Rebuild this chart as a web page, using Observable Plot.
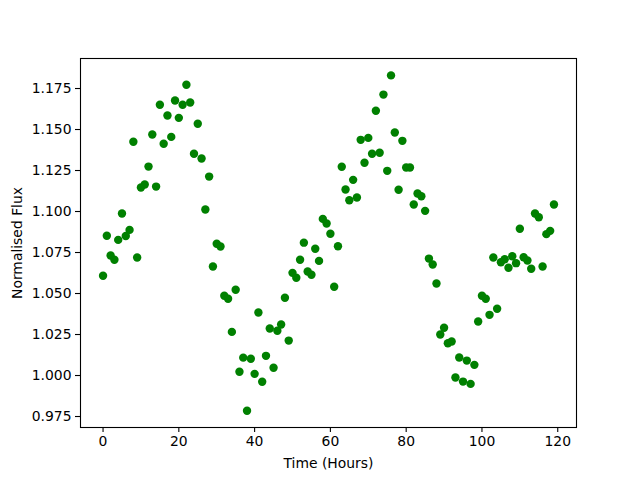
<!DOCTYPE html>
<html>
<head>
<meta charset="utf-8">
<script src="https://cdn.jsdelivr.net/npm/d3@7"></script>
<script src="https://cdn.jsdelivr.net/npm/@observablehq/plot@0.6"></script>
<style>
  html, body { margin: 0; padding: 0; background: #fff; }
  #chart svg { display: block; }
</style>
</head>
<body>
<div id="chart"></div>
<script>
const hours = [
  0,1,2,3,4,5,6,7,8,9,10,11,12,13,14,15,16,17,18,19,
  20,21,22,23,24,25,26,27,28,29,30,31,32,33,34,35,36,37,38,39,
  40,41,42,43,44,45,46,47,48,49,50,51,52,53,54,55,56,57,58,59,
  60,61,62,63,64,65,66,67,68,69,70,71,72,73,74,75,76,77,78,79,
  80,81,82,83,84,85,86,87,88,89,90,91,92,93,94,95,96,97,98,99,
  100,101,102,103,104,105,106,107,108,109,110,111,112,113,114,115,116,117,118,119
];
const flux = [
  1.0608,1.0852,1.0732,1.0706,1.0827,1.0988,1.0851,1.0888,1.1425,1.0720,
  1.1146,1.1165,1.1274,1.1470,1.1152,1.1651,1.1413,1.1585,1.1455,1.1677,
  1.1571,1.1651,1.1773,1.1665,1.1352,1.1535,1.1323,1.1012,1.1213,1.0665,
  1.0803,1.0787,1.0486,1.0468,1.0266,1.0523,1.0023,1.0109,0.9785,1.0102,
  1.0010,1.0384,0.9962,1.0120,1.0287,1.0047,1.0273,1.0311,1.0474,1.0213,
  1.0626,1.0596,1.0706,1.0810,1.0634,1.0614,1.0773,1.0699,1.0955,1.0927,
  1.0864,1.0541,1.0788,1.1273,1.1134,1.1069,1.1193,1.1085,1.1437,1.1297,
  1.1449,1.1352,1.1614,1.1358,1.1713,1.1248,1.1830,1.1482,1.1133,1.1431,
  1.1268,1.1268,1.1043,1.1110,1.1093,1.1004,1.0713,1.0677,1.0561,1.0250,
  1.0291,1.0197,1.0207,0.9988,1.0110,0.9963,1.0091,0.9949,1.0065,1.0329,
  1.0486,1.0468,1.0370,1.0720,1.0407,1.0691,1.0709,1.0657,1.0727,1.0685,
  1.0895,1.0721,1.0701,1.0651,1.0988,1.0965,1.0665,1.0862,1.0882,1.1043
];
const xTicks = [0, 20, 40, 60, 80, 100, 120];
const yTicks = [0.975, 1.000, 1.025, 1.050, 1.075, 1.100, 1.125, 1.150, 1.175];
const xLabel = "Time (Hours)";
const yLabel = "Normalised Flux";

const data = hours.map((h, i) => ({h, f: flux[i]}));

const chart = Plot.plot({
  width: 640,
  height: 480,
  marginLeft: 80,
  marginRight: 64,
  marginTop: 58,
  marginBottom: 53,
  style: {fontFamily: "DejaVu Sans", fontSize: "13.9px", color: "black", background: "white"},
  x: {domain: [-5.95, 124.95]},
  y: {domain: [0.9683, 1.1933]},
  marks: [
    Plot.dot(data, {x: "h", y: "f", r: 4.2, fill: "#008000", stroke: null}),
    Plot.frame({stroke: "black", strokeWidth: 1.1}),
    Plot.axisX(xTicks, {tickSize: 5, tickPadding: 4, label: null, fontSize: 13.9, stroke: "black", strokeWidth: 1.1}),
    Plot.axisY(yTicks, {tickSize: 5, tickPadding: 4, label: null, tickFormat: d3.format(".3f"), fontSize: 13.9, stroke: "black", strokeWidth: 1.1}),
    Plot.text([xLabel], {frameAnchor: "bottom", dy: 36, text: d => d, fontSize: 13.9, lineAnchor: "middle", fill: "black"}),
    Plot.text([yLabel], {frameAnchor: "left", dx: -63, rotate: -90, text: d => d, fontSize: 13.9, lineAnchor: "middle", textAnchor: "middle", fill: "black"})
  ]
});
document.getElementById("chart").appendChild(chart);
</script>
</body>
</html>
